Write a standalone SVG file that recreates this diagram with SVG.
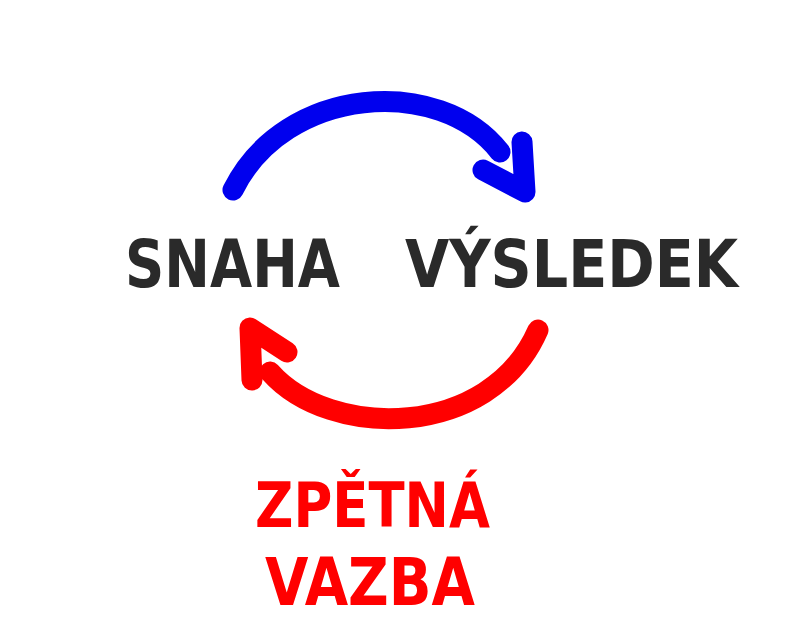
<svg xmlns="http://www.w3.org/2000/svg" width="791" height="643" viewBox="0 0 791 643">
<style>
.lbl{font-family:"DejaVu Sans","Liberation Sans",sans-serif;font-weight:bold;}
.dark{fill:#2a2a2a;}
.red{fill:#ff0000;}
.arc{fill:none;stroke-width:21;stroke-linecap:round;stroke-linejoin:round;}
.blue{stroke:#0000ee;}
.redS{stroke:#ff0000;}
</style>
<rect width="791" height="643" fill="#ffffff"/>
<g id="connectors">
<g id="effort-to-result">
<path class="arc blue" d="M233,190 C285,85 440,75 500,152"/>
<path class="arc blue" d="M522,142 L525,192 L483,170"/>
</g>
<g id="feedback">
<path class="arc redS" d="M538,330 C490,440 330,440 270,372"/>
<path class="arc redS" d="M252,380 L250,328 L287,352"/>
</g>
</g>
<g id="node-snaha">
<text class="lbl dark" x="125" y="287" font-size="66" textLength="215" lengthAdjust="spacingAndGlyphs">SNAHA</text>
</g>
<g id="node-vysledek">
<text class="lbl dark" x="405" y="287" font-size="66" textLength="333" lengthAdjust="spacingAndGlyphs">VÝSLEDEK</text>
</g>
<g id="node-zpetna-vazba">
<text class="lbl red" x="255" y="527" font-size="62" textLength="235" lengthAdjust="spacingAndGlyphs">ZPĚTNÁ</text>
<text class="lbl red" x="265" y="605" font-size="66" textLength="210" lengthAdjust="spacingAndGlyphs">VAZBA</text>
</g>
</svg>
